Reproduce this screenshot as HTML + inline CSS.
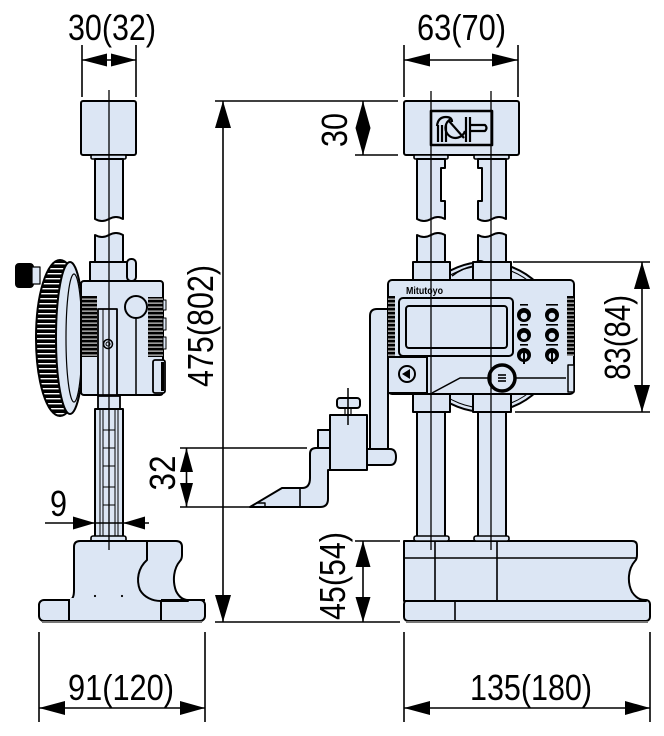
<!DOCTYPE html>
<html><head><meta charset="utf-8"><style>
html,body{margin:0;padding:0;background:#fff;}
svg{display:block;}
text{font-family:"Liberation Sans",sans-serif;fill:#000;}
</style></head><body>
<svg width="664" height="736" viewBox="0 0 664 736" xmlns="http://www.w3.org/2000/svg">
<defs>
<pattern id="hs" width="4" height="4" patternUnits="userSpaceOnUse"><rect width="4" height="4" fill="#000"/><rect y="2.6" width="4" height="1" fill="#fff"/></pattern>
<pattern id="ws" width="5" height="5" patternUnits="userSpaceOnUse"><rect width="5" height="5" fill="#000"/><rect y="3" width="5" height="1.4" fill="#fff"/></pattern>
</defs>
<g fill="#dce6f4" stroke="#000" stroke-width="2" stroke-linejoin="round">

<!-- ===== LEFT VIEW ===== -->
<rect x="81" y="101" width="55" height="54" rx="2"/>
<rect x="91" y="155" width="35" height="4" rx="1.5" stroke-width="1.6"/>
<path d="M95,159 V219 q7,4 14,0 q7,-4 14,0 V159 Z"/>
<path d="M95,262 V235 q7,4 14,0 q7,-4 14,0 V262 Z"/>

<!-- dial wheel -->
<ellipse cx="60" cy="338" rx="24" ry="78" fill="url(#ws)"/>
<ellipse cx="70" cy="338" rx="14" ry="76"/>
<ellipse cx="74" cy="338" rx="8" ry="64" stroke-width="1.2"/>
<rect x="16" y="264" width="17" height="23" rx="3" fill="#000"/>
<rect x="32" y="267" width="8" height="17" stroke-width="1.2"/>

<rect x="90" y="262" width="38" height="19"/>
<rect x="127" y="259" width="9" height="22" rx="4"/>
<rect x="81" y="281" width="82" height="114" rx="3"/>
<rect x="82" y="296" width="15" height="61" fill="url(#hs)" stroke="none"/>
<rect x="148" y="297" width="15" height="60" fill="url(#hs)" stroke="none"/>
<rect x="163" y="300" width="3" height="10" stroke-width="1"/>
<rect x="163" y="318" width="3" height="12" stroke-width="1"/>
<rect x="163" y="337" width="3" height="12" stroke-width="1"/>
<circle cx="136" cy="307" r="11"/>
<line x1="136" y1="318" x2="136" y2="395" stroke-width="1.5"/>
<rect x="98" y="309" width="19" height="86" stroke-width="1.8"/>
<line x1="103" y1="309" x2="103" y2="395" stroke-width="1"/>
<circle cx="108" cy="344" r="4.5" stroke-width="1.5"/>
<circle cx="108" cy="344" r="2" stroke-width="1"/>
<rect x="153" y="360" width="12" height="33" rx="2" stroke-width="1.8"/>
<rect x="161" y="362" width="3" height="29" fill="#000" stroke="none"/>

<rect x="98" y="396" width="22" height="13" stroke-width="1.8"/>
<rect x="95" y="409" width="28" height="128"/>
<g stroke-width="1" fill="none">
<line x1="100" y1="409" x2="100" y2="537"/><line x1="118" y1="409" x2="118" y2="537"/>
<line x1="103" y1="409" x2="103" y2="537"/><line x1="115" y1="409" x2="115" y2="537"/>
<line x1="103" y1="430" x2="115" y2="430"/><line x1="103" y1="448" x2="115" y2="448"/>
<line x1="103" y1="466" x2="115" y2="466"/><line x1="103" y1="487" x2="115" y2="487"/>
<line x1="103" y1="505" x2="115" y2="505"/>
</g>
<rect x="91" y="536" width="35" height="6" rx="2" stroke-width="1.6"/>

<!-- left base -->
<rect x="39" y="600" width="166" height="21" rx="5"/>
<path d="M69,601 C73,599 74,596 74,590 V547 Q74,541 80,541 H176 Q182,541 182,547 V555 Q182,559 180,561 C174,568 172,580 176,591 C179,597 183,600 188,600 L188,601 H69 Z"/>
<rect x="70" y="598" width="90" height="5" stroke="none"/>
<path d="M147,541 V560 C138,568 136,580 140,590 C144,597 152,601 161,601" fill="none"/>
<line x1="69" y1="600" x2="69" y2="621"/>
<line x1="161" y1="600" x2="161" y2="621"/>
<line x1="161" y1="600" x2="205" y2="600"/>
<line x1="42" y1="622" x2="202" y2="622" stroke="#777"/>
<circle cx="95" cy="596" r="1.1" fill="#000" stroke="none"/>
<circle cx="122" cy="596" r="1.1" fill="#000" stroke="none"/>

<!-- ===== RIGHT VIEW ===== -->
<rect x="404" y="101" width="115" height="54" rx="2"/>
<rect x="431" y="111" width="61" height="34" stroke-width="2.6"/>
<g fill="none" stroke-width="2.2">
<path d="M437,126 Q438,117 446,117 Q452,117 452,122"/>
<line x1="438" y1="125" x2="438" y2="142"/><line x1="442" y1="125" x2="442" y2="142"/><line x1="446" y1="125" x2="446" y2="142"/>
<path d="M451,119 A10,10 0 1,0 465,131"/>
<line x1="449" y1="121" x2="464" y2="138"/>
<line x1="466" y1="117" x2="466" y2="142"/><line x1="470" y1="117" x2="470" y2="142"/>
<path d="M471,125 H485 Q488,128 485,131 H471"/>
</g>

<rect x="414" y="155" width="34" height="4" rx="1.5" stroke-width="1.6"/>
<rect x="474" y="155" width="35" height="4" rx="1.5" stroke-width="1.6"/>
<path d="M417,159 V219 q7,4 14,0 q7,-4 14,0 V201 H441 V168 H445 V159 Z"/>
<path d="M478,159 V168 H482 V201 H478 V219 q7,4 14,0 q7,-4 14,0 V159 Z"/>
<path d="M417,262 V235 q7,4 14,0 q7,-4 14,0 V262 Z"/>
<path d="M478,262 V235 q7,4 14,0 q7,-4 14,0 V262 Z"/>
<rect x="417" y="410" width="28" height="127"/>
<rect x="478" y="410" width="28" height="127"/>

<circle cx="485" cy="337" r="75"/>
<circle cx="485" cy="337" r="71" fill="none" stroke-width="1"/>
<path d="M452,276 Q462,268 474,266" fill="none" stroke-width="1.5"/>
<circle cx="480" cy="268" r="7" fill="#000"/>
<circle cx="478" cy="268" r="3.5" stroke="none"/>

<rect x="413" y="262" width="37" height="18"/>
<rect x="473" y="262" width="38" height="18"/>
<rect x="413" y="394" width="37" height="18"/>
<rect x="473" y="394" width="38" height="18"/>

<!-- scriber assembly -->
<path d="M370,449 V316 Q370,309 377,309 H388 V449 Z"/>
<path d="M310,454 Q310,448 316,448 H330 V470 H328 V499 Q328,507 320,507 H250 L282,488 H302 Q310,488 310,478 Z"/>
<line x1="300" y1="488" x2="300" y2="507" stroke-width="1.6"/>
<polyline points="256,503 265,503 265,507" fill="none" stroke-width="1.4"/>
<rect x="318" y="430" width="12" height="18"/>
<path d="M367,449 H390 Q396,449 396,457 Q396,465 390,465 H367 Z"/>
<rect x="330" y="415" width="37" height="55"/>
<line x1="345" y1="406" x2="345" y2="415" stroke-width="1.2"/>
<line x1="351" y1="406" x2="351" y2="415" stroke-width="1.2"/>
<rect x="337" y="398" width="23" height="10" rx="3"/>
<line x1="348" y1="388" x2="348" y2="425" stroke-width="1.5"/>

<!-- display unit -->
<rect x="388" y="280" width="186" height="114" rx="4"/>
<rect x="388" y="296" width="7" height="60" fill="url(#hs)" stroke="none"/>
<rect x="567" y="296" width="7" height="60" fill="url(#hs)" stroke="none"/>
<rect x="399" y="298" width="114" height="58" rx="4"/>
<rect x="406" y="306" width="101" height="42" rx="3"/>
<rect x="388" y="357" width="39" height="36"/>
<circle cx="407" cy="374" r="8"/>
<polygon points="402,374 410,369 410,379" fill="#000" stroke="none"/>
<polyline points="432,393 460,378 566,378" fill="none" stroke-width="1.5"/>
<rect x="568" y="365" width="6" height="27" stroke-width="1.5"/>
<circle cx="502" cy="378" r="13" stroke-width="3.5"/>
<g stroke-width="1.6"><line x1="498" y1="375" x2="506" y2="375"/><line x1="498" y1="378" x2="506" y2="378"/><line x1="498" y1="381" x2="506" y2="381"/></g>

<g stroke="none">
<circle cx="524" cy="315" r="7" fill="#000"/><circle cx="524" cy="316" r="3.3"/>
<circle cx="552" cy="315" r="7" fill="#000"/><circle cx="552" cy="316" r="3.3"/>
<circle cx="524" cy="335" r="7" fill="#000"/><circle cx="524" cy="336" r="3.3"/>
<circle cx="552" cy="335" r="7" fill="#000"/><circle cx="552" cy="336" r="3.3"/>
<circle cx="524" cy="355" r="7" fill="#000"/><circle cx="524" cy="356" r="3.3"/>
<circle cx="552" cy="355" r="7" fill="#000"/><circle cx="552" cy="356" r="3.3"/>
<rect x="520" y="304" width="8" height="1.6" fill="#000"/><rect x="546" y="304" width="12" height="1.6" fill="#000"/>
<rect x="520" y="324" width="8" height="1.6" fill="#000"/><rect x="546" y="324" width="12" height="1.6" fill="#000"/>
<rect x="520" y="344" width="8" height="1.6" fill="#000"/><rect x="546" y="344" width="12" height="1.6" fill="#000"/>
<rect x="523" y="350" width="2" height="14" fill="#000"/><rect x="551" y="350" width="2" height="14" fill="#000"/>
</g>

<!-- right base -->
<rect x="404" y="600" width="246" height="21" rx="4"/>
<path d="M404,541 H632 Q637,541 637,546 V555 Q637,559 635,561 C628,569 627,582 632,592 C636,598 640,600 646,600 L646,601 H404 Z"/>
<line x1="404" y1="558" x2="636" y2="558" stroke-width="1.6"/>
<line x1="435" y1="541" x2="435" y2="600" stroke-width="1.6"/>
<line x1="497" y1="541" x2="497" y2="600" stroke-width="1.6"/>
<line x1="455" y1="600" x2="455" y2="621" stroke-width="1.6"/>
<line x1="406" y1="622" x2="648" y2="622" stroke="#777"/>
<rect x="414" y="536" width="35" height="5" rx="2" stroke-width="1.6"/>
<rect x="474" y="536" width="35" height="5" rx="2" stroke-width="1.6"/>
</g>

<text x="406" y="294" font-size="10" font-weight="bold" textLength="37" lengthAdjust="spacingAndGlyphs">Mitutoyo</text>

<!-- center lines -->
<g stroke="#000" stroke-width="1.3">
<line x1="109" y1="90" x2="109" y2="550"/>
<line x1="431" y1="91" x2="431" y2="550"/>
<line x1="491" y1="91" x2="491" y2="550"/>
</g>

<!-- dimension & extension lines -->
<g stroke="#000" stroke-width="1.6" fill="none">
<line x1="82" y1="45" x2="82" y2="97"/><line x1="136" y1="45" x2="136" y2="97"/><line x1="82" y1="60" x2="136" y2="60"/>
<line x1="404" y1="45" x2="404" y2="97"/><line x1="518" y1="45" x2="518" y2="97"/><line x1="404" y1="60" x2="518" y2="60"/>
<line x1="215" y1="101" x2="398" y2="101"/><line x1="215" y1="622" x2="400" y2="622"/><line x1="223" y1="101" x2="223" y2="622"/>
<line x1="355" y1="155" x2="398" y2="155"/><line x1="363" y1="101" x2="363" y2="155"/>
<line x1="180" y1="448" x2="307" y2="448"/><line x1="180" y1="507" x2="250" y2="507"/><line x1="186.5" y1="448" x2="186.5" y2="507"/>
<line x1="45" y1="523" x2="149" y2="523"/>
<line x1="355" y1="541" x2="400" y2="541"/><line x1="363" y1="541" x2="363" y2="622"/>
<line x1="513" y1="262" x2="650" y2="262"/><line x1="515" y1="412" x2="650" y2="412"/><line x1="642" y1="262" x2="642" y2="412"/>
<line x1="39" y1="632" x2="39" y2="722"/><line x1="205" y1="632" x2="205" y2="722"/><line x1="39" y1="708" x2="205" y2="708"/>
<line x1="404" y1="632" x2="404" y2="722"/><line x1="650" y1="632" x2="650" y2="722"/><line x1="404" y1="708" x2="650" y2="708"/>
</g>

<!-- arrowheads -->
<g fill="#000" stroke="none">
<polygon points="82,60 107,53.5 107,66.5"/><polygon points="136,60 111,53.5 111,66.5"/>
<polygon points="404,60 430,53.5 430,66.5"/><polygon points="518,60 492,53.5 492,66.5"/>
<polygon points="223,101 215,128 231,128"/><polygon points="223,622 215,595 231,595"/>
<polygon points="363,101 355.5,128 370.5,128"/><polygon points="363,155 355.5,128 370.5,128"/>
<polygon points="186.5,448 180,472 193,472"/><polygon points="186.5,507 180,483 193,483"/>
<polygon points="95,523 73,516.5 73,529.5"/><polygon points="123,523 145,516.5 145,529.5"/>
<polygon points="363,541 355.5,567 370.5,567"/><polygon points="363,622 355.5,597 370.5,597"/>
<polygon points="642,262 634,289 650,289"/><polygon points="642,412 634,385 650,385"/>
<polygon points="39,708 65,701 65,715"/><polygon points="205,708 180,701 180,715"/>
<polygon points="404,708 430,701 430,715"/><polygon points="650,708 625,701 625,715"/>
</g>

<!-- dimension texts -->
<g font-size="36">
<text x="112" y="40" text-anchor="middle" textLength="88" lengthAdjust="spacingAndGlyphs">30(32)</text>
<text x="461.5" y="40" text-anchor="middle" textLength="89" lengthAdjust="spacingAndGlyphs">63(70)</text>
<text x="121" y="700" text-anchor="middle" textLength="106" lengthAdjust="spacingAndGlyphs">91(120)</text>
<text x="531" y="700" text-anchor="middle" textLength="122" lengthAdjust="spacingAndGlyphs">135(180)</text>
<text x="58.5" y="516" text-anchor="middle" textLength="17" lengthAdjust="spacingAndGlyphs">9</text>
<text transform="translate(213,326) rotate(-90)" text-anchor="middle" textLength="122" lengthAdjust="spacingAndGlyphs">475(802)</text>
<text transform="translate(347,130) rotate(-90)" text-anchor="middle" textLength="34" lengthAdjust="spacingAndGlyphs">30</text>
<text transform="translate(175,473) rotate(-90)" text-anchor="middle" textLength="35" lengthAdjust="spacingAndGlyphs">32</text>
<text transform="translate(345,576) rotate(-90)" text-anchor="middle" textLength="88" lengthAdjust="spacingAndGlyphs">45(54)</text>
<text transform="translate(630,337.5) rotate(-90)" text-anchor="middle" textLength="85" lengthAdjust="spacingAndGlyphs">83(84)</text>
</g>
</svg>
</body></html>
